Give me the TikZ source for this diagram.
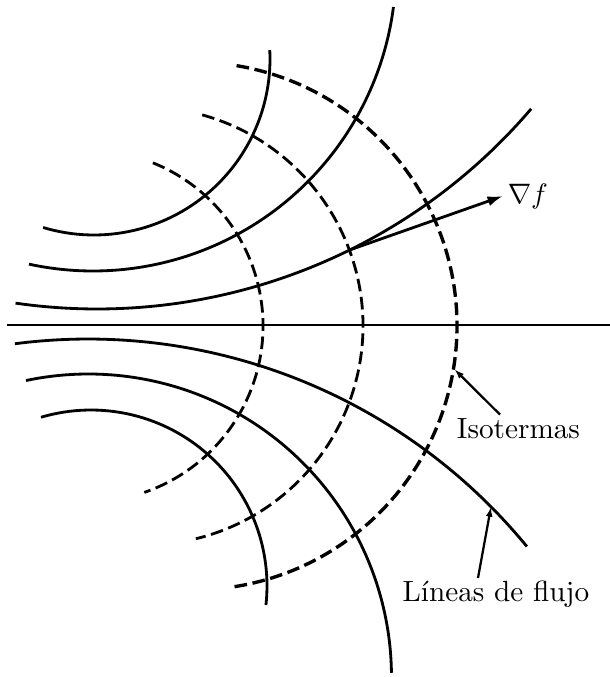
\documentclass[tikz,border=0pt]{standalone}
\usepackage{amsmath,amssymb}
\usepackage{tikz}
\usetikzlibrary{arrows.meta}

\begin{document}
\begin{tikzpicture}[x=0.0125cm, y=0.0125cm,
        flow/.style={line width=1pt},
        isot/.style={line width=1pt, dash pattern=on 4.5pt off 2pt},
        pointer/.style={line width=0.8pt, -{Latex[length=3.5pt,width=2.4pt]}},
        lbl/.style={inner sep=1pt, font=\fontsize{10.4}{12}\selectfont}]
        \useasboundingbox (0,0) rectangle (610,677);

        % Centres of the circles
        \coordinate (cI1) at (87,351);
        \coordinate (cI2) at (144,351);
        \coordinate (cI3) at (193,351);
        \coordinate (cU1) at (94,618);
        \coordinate (cU2) at (93,709);
        \coordinate (cU3) at (97,939);
        \coordinate (cL1) at (88,-230);
        \coordinate (cL2) at (88.5,0);
        \coordinate (cL3) at (91,91);

        % Draw axis
        \coordinate (axl) at (7,352);
        \coordinate (axr) at (610,352);
        \draw[line width=0.95pt] (axl) -- (axr);

        % Draw isotherms
        \draw[isot] (cI1) ++(68:176) arc[start angle=68, end angle=-71, radius=176];
        \draw[isot] (cI2) ++(74.6:219) arc[start angle=74.6, end angle=-76.3, radius=219];
        \draw[isot, line width=1.2pt] (cI3) ++(80.5:264) arc[start angle=80.5, end angle=-81.2, radius=264];

        % Draw flow lines
        \draw[flow] (cU1) ++(-106.8:176) arc[start angle=-106.8, end angle=2.9, radius=176];
        \draw[flow] (cU2) ++(-102.2:303) arc[start angle=-102.2, end angle=-7.4, radius=303];
        \draw[flow] (cU3) ++(-98.2:571) arc[start angle=-98.2, end angle=-40.5, radius=571];
        \draw[flow] (cL1) ++(97.4:568) arc[start angle=97.4, end angle=39.4, radius=568];
        \draw[flow] (cL2) ++(101.9:303) arc[start angle=101.9, end angle=0.8, radius=303];
        \draw[flow] (cL3) ++(106.5:176) arc[start angle=106.5, end angle=-6.2, radius=176];

        % Gradient
        \coordinate (gradbase) at ([shift={(-63.7:571)}]cU3);
        \coordinate (gradtip) at (503,481);
        \node[lbl, anchor=west, inner sep=1.5pt] (grad) at (gradtip) {$\nabla f$};
        \draw[line width=1pt, -{Latex[length=5.5pt,width=3.6pt]}] (gradbase) -- (gradtip);

        % Labels
        \node[lbl, anchor=base] (isolbl) at (518.5,239) {Isotermas};
        \node[lbl, anchor=base] (flowlbl) at (496,75) {L\'ineas de flujo};
        \coordinate (isotip) at ([shift={(-9.4:265)}]cI3);
        \coordinate (flowtip) at ([shift={(44.8:568)}]cL1);
        \draw[pointer] ([xshift=-0.23cm]isolbl.north) -- (isotip);
        \draw[pointer] ([xshift=-0.225cm]flowlbl.north) -- (flowtip);
\end{tikzpicture}
\end{document}
